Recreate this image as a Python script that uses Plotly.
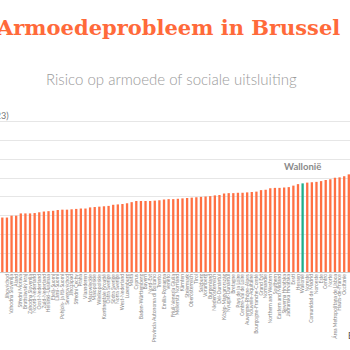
import plotly.graph_objects as go

# ---- data ----
regions = [
    "Západné Slovensko", "Jihovýchod", "Vzhodna Slovenija", "Åland", "Střední Morava",
    "Bratislavský kraj", "Zahodna Slovenija", "Noord-Nederland", "Oost-Nederland", "Zuid-Nederland",
    "Helsinki-Uusimaa", "Etelä-Suomi", "Länsi-Suomi", "Pohjois- ja Itä-Suomi", "Severovýchod",
    "Jihozápad", "Střední Čechy", "Praha", "Vlaanderen", "Mazowieckie",
    "Malopolskie", "Wielkopolskie", "Kontinentale Kroatië", "Östra Sverige", "Södra Sverige",
    "Norra Sverige", "West-Nederland", "Luxemburg", "Malta", "Cyprus",
    "Baden-Württemberg", "Bayern", "Nord-Est", "Provincia Autonoma di Bolzano", "Trento",
    "Emilia-Romagna", "Veneto", "Friuli-Venezia Giulia", "Mellersta Norrland", "Kärnten",
    "Steiermark", "Oberösterreich", "Tirol", "Salzburg", "Vorarlberg",
    "Burgenland", "Niederösterreich", "Dél-Dunántúl", "Közép-Magyarország", "Nyugat-Dunántúl",
    "Bretagne", "Pays de la Loire", "Centre-Val de Loire", "Auvergne-Rhône-Alpes", "Nouvelle-Aquitaine",
    "Bourgogne-Franche-Comté", "Grand Est", "Normandie", "Northern and Western", "Southern",
    "Eastern and Midland", "Sjeverna Hrvatska", "Jadranska Hrvatska", "Eesti", "Hessen",
    "Wallonië", "Noreste", "Comunidad de Madrid", "Noroeste", "Este",
    "Centro", "Norte", "Área Metropolitana de Lisboa", "Hauts-de-France", "Occitanie",
    "Latvija", "Lietuva", "Provence-Alpes-Côte d'Azur",
]
values = [
    14.5, 14.5, 15.0, 15.0, 15.6, 15.6, 15.6, 15.7, 15.9, 16.1,
    16.2, 16.3, 16.5, 16.6, 16.6, 16.7, 16.8, 16.9, 16.9, 17.2,
    17.3, 17.4, 17.5, 17.6, 17.9, 18.0, 18.1, 18.3, 18.6, 18.9,
    18.9, 18.9, 18.9, 19.0, 19.1, 19.3, 19.4, 19.4, 19.5, 19.6,
    19.7, 19.8, 19.9, 20.0, 20.1, 20.2, 20.4, 20.5, 20.9, 21.0,
    21.0, 21.1, 21.1, 21.2, 21.3, 21.4, 21.8, 21.9, 22.3, 22.4,
    22.4, 22.5, 22.6, 23.0, 23.4, 23.6, 23.8, 23.9, 24.0, 24.2,
    24.5, 24.7, 25.1, 25.2, 25.5, 26.0, 26.4, 27.0,
]
highlight = "Wallonië"
y_ticks = [0, 5, 10, 15, 20, 25, 30, 35, 40, 45]

ORANGE = "#ff7043"
TEAL = "#1fae8a"

x_idx = list(range(len(values)))
colors = [TEAL if r == highlight else ORANGE for r in regions]

fig = go.Figure(go.Bar(
    x=x_idx, y=values, marker=dict(color=colors, line=dict(width=0)),
    hoverinfo="skip",
))

W, H = 350, 350
T, B = 103, 78
PH = H - T - B

def py(Y):
    return (H - B - Y) / PH

def px(X):
    return X / W

hi = regions.index(highlight)
annotations = [
    dict(text="<b>Armoedeprobleem in Brussel</b>", x=px(168), y=py(28), xref="paper", yref="paper",
         showarrow=False, xanchor="center", yanchor="middle",
         font=dict(family="DejaVu Serif", size=21, color="#ff6a3a")),
    dict(text="Risico op armoede of sociale uitsluiting", x=px(171), y=py(79), xref="paper", yref="paper",
         showarrow=False, xanchor="center", yanchor="middle",
         font=dict(family="Lato", size=15, color="#9a9a9a", weight=300)),
    dict(text="% van de bevolking (2023)", x=px(11), y=py(115), xref="paper", yref="paper",
         showarrow=False, xanchor="right", yanchor="middle",
         font=dict(family="Lato", size=9, color="#777777")),
    dict(text="<b>Wallonië</b>", x=hi, y=values[hi], xref="x", yref="y",
         showarrow=False, xanchor="center", yanchor="bottom", yshift=9,
         font=dict(family="Lato", size=9.5, color="#8a8a8a")),
    dict(text="Bron: Eurostat", x=px(346), y=py(335), xref="paper", yref="paper",
         showarrow=False, xanchor="left", yanchor="middle",
         font=dict(family="Lato", size=9, color="#555555")),
]

fig.update_layout(
    width=W, height=H,
    margin=dict(l=0, r=0, t=T, b=B, pad=0),
    paper_bgcolor="white", plot_bgcolor="white",
    showlegend=False,
    bargap=0.5,
    annotations=annotations,
    xaxis=dict(
        range=[-0.5, -0.5 + W / 4.62], tickmode="array", tickvals=x_idx, ticktext=regions,
        tickangle=-90, tickfont=dict(family="Lato", size=5, color="#888888"),
        showgrid=False, zeroline=False, showline=False, ticks="", automargin=False,
    ),
    yaxis=dict(
        range=[0, 45], tickvals=y_ticks, showticklabels=False, showgrid=True,
        gridcolor="#e6e6e6", gridwidth=1, zeroline=True, zerolinecolor="#cccccc",
        zerolinewidth=1, showline=False, ticks="", automargin=False, fixedrange=True,
    ),
)

fig.write_html("out.html")
